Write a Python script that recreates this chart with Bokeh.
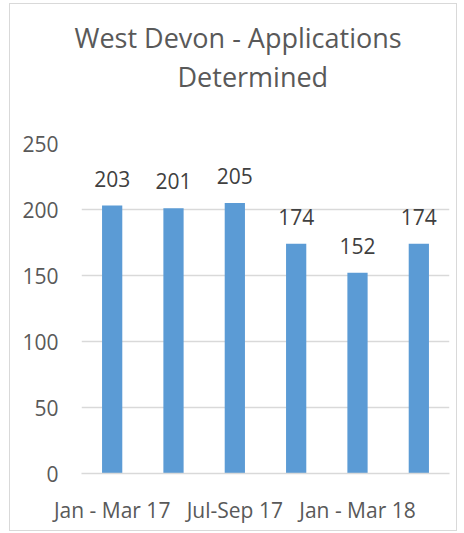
from bokeh.plotting import figure
from bokeh.models import ColumnDataSource, Range1d, FixedTicker, LabelSet, Title
from bokeh.core.properties import value
from bokeh.embed import file_html
from bokeh.resources import INLINE

categories = ["Jan - Mar 17", "Apr - Jun 17", "Jul-Sep 17", "Oct - Dec 17", "Jan - Mar 18", "Apr - Jun 18"]
values = [203, 201, 205, 174, 152, 174]
y_ticks = [0, 50, 100, 150, 200, 250]
title_lines = ["West Devon - Applications", "Determined"]

FONT = "Open Sans"
idx = list(range(len(categories)))
src = ColumnDataSource(dict(x=idx, top=values, label=[str(v) for v in values]))

p = figure(width=448, height=528, output_backend="svg", toolbar_location=None,
           x_range=Range1d(-0.5, len(categories) - 0.5), y_range=Range1d(0, 250),
           min_border_left=71, min_border_right=9, min_border_bottom=59, min_border_top=139)
p.styles = {"border": "1px solid #D9D9D9", "margin-left": "9px", "margin-top": "3px"}

p.vbar(x="x", top="top", width=0.33, source=src, color="#5B9BD5", line_color=None)

labels = LabelSet(x="x", y="top", text="label", source=src, text_align="center",
                  text_baseline="bottom", y_offset=19, text_font=value(FONT),
                  text_font_size="21px", text_color="#404040")
p.add_layout(labels)

# Title, two lines. Added titles stack outward from the frame; p.title is outermost.
spacer = Title(text=" ", text_font_size="1px", standoff=57)
p.add_layout(spacer, "above")
t2 = Title(text=title_lines[1], align="left", offset=96, text_font=FONT, text_font_size="27px",
           text_font_style="normal", text_color="#595959", standoff=-22)
p.add_layout(t2, "above")

p.title.text = title_lines[0]
p.title.align = "left"
p.title.offset = -7
p.title.text_font = FONT
p.title.text_font_size = "27px"
p.title.text_font_style = "normal"
p.title.text_color = "#595959"
p.title.standoff = 22

p.outline_line_color = None
p.xgrid.grid_line_color = None
p.ygrid.grid_line_color = "#D9D9D9"
p.ygrid.grid_line_width = 1.5
p.ygrid.ticker = FixedTicker(ticks=y_ticks)

p.yaxis.ticker = FixedTicker(ticks=y_ticks)
p.yaxis.axis_line_color = None
p.yaxis.major_tick_line_color = None
p.yaxis.minor_tick_line_color = None
p.yaxis.major_label_standoff = 17
p.yaxis.major_label_text_font = FONT
p.yaxis.major_label_text_font_size = "21px"
p.yaxis.major_label_text_color = "#595959"

p.xaxis.ticker = FixedTicker(ticks=idx[::2])
p.xaxis.major_label_overrides = {i: categories[i] for i in idx}
p.xaxis.axis_line_color = "#D9D9D9"
p.xaxis.axis_line_width = 1.5
p.xaxis.major_tick_line_color = None
p.xaxis.minor_tick_line_color = None
p.xaxis.major_label_standoff = 16
p.xaxis.major_label_text_font = FONT
p.xaxis.major_label_text_font_size = "21px"
p.xaxis.major_label_text_color = "#595959"

open("out.html", "w").write(file_html(p, INLINE))
